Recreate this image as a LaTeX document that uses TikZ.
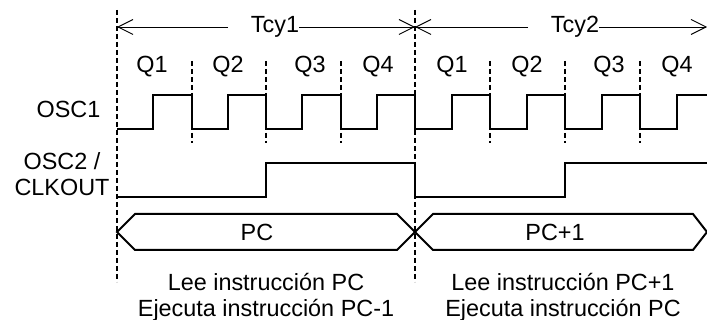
\documentclass[tikz,border=0pt]{standalone}
\usepackage{fontspec}
\setmainfont{Liberation Sans}
\usetikzlibrary{arrows.meta}
\begin{document}
\begin{tikzpicture}[x=1pt,y=-1pt,
  lbl/.style={font=\fontsize{23.4}{26}\selectfont, inner sep=0pt},
  wave/.style={line width=2.2pt, line join=miter},
  grid/.style={line width=1.1pt, dash pattern=on 5pt off 3pt},
  dim/.style={line width=0.9pt, -{Straight Barb[length=15pt,width=15pt,line width=0.9pt]}},
  bus/.style={line width=2pt, line join=miter}]
\useasboundingbox (0,0) rectangle (707,320);
% main cycle boundaries
\coordinate (L1) at (117,27);
\coordinate (M1) at (415,27);
\coordinate (R1) at (707,27);
\draw[grid] (117,10) -- (117,282);
\draw[grid] (415,10) -- (415,282);
% quarter lines
\foreach \x in {192,266,341,490,565,640}
  \draw[grid] (\x,61) -- (\x,143);
% Tcy labels and arrows
\node[lbl, anchor=base] (t1) at (275,33) {Tcy1};
\node[lbl, anchor=base] (t2) at (575,33) {Tcy2};
\coordinate (g1) at (228,27);
\coordinate (g2) at (528,27);
\draw[dim] (g1) -- (L1);
\draw[dim] (t1.east |- L1) -- (M1);
\draw[dim] (g2) -- (M1);
\draw[dim] (t2.east |- L1) -- (R1);
% Q labels
\foreach \x/\q in {152/Q1,228/Q2,310/Q3,378/Q4,452/Q1,527/Q2,609/Q3,677/Q4}
  \node[lbl, anchor=base] at (\x,73) {\q};
% signal names
\node[lbl, anchor=base] (osc1) at (68.5,118) {OSC1};
\node[lbl, align=center] (osc2) at (62,174) {OSC2 /\\CLKOUT};
% OSC1 waveform
\draw[wave] (117,129) -- (153,129) -- (153,95) -- (192,95) -- (192,129)
  -- (228,129) -- (228,95) -- (266,95) -- (266,129)
  -- (302,129) -- (302,95) -- (341,95) -- (341,129)
  -- (377,129) -- (377,95) -- (415,95) -- (415,129)
  -- (452,129) -- (452,95) -- (490,95) -- (490,129)
  -- (527,129) -- (527,95) -- (565,95) -- (565,129)
  -- (602,129) -- (602,95) -- (640,95) -- (640,129)
  -- (677,129) -- (677,95) -- (708,95);
% OSC2 waveform
\draw[wave] (117,197) -- (266,197) -- (266,163) -- (415,163) -- (415,197)
  -- (565,197) -- (565,163) -- (708,163);
% bus
\draw[bus] (117,232) -- (135,214) -- (397,214) -- (415,232) -- (397,250) -- (135,250) -- cycle;
\draw[bus] (415,232) -- (433,214) -- (693,214) -- (707,232) -- (693,250) -- (433,250) -- cycle;
\node[lbl] (pc) at (257,232) {PC};
\node[lbl] (pc1) at (555,232) {PC+1};
% descriptions
\node[lbl, align=center] (d1) at (266,297) {Lee instrucción PC\\Ejecuta instrucción PC-1};
\node[lbl, align=center] (d2) at (563,297) {Lee instrucción PC+1\\Ejecuta instrucción PC};
\end{tikzpicture}
\end{document}
